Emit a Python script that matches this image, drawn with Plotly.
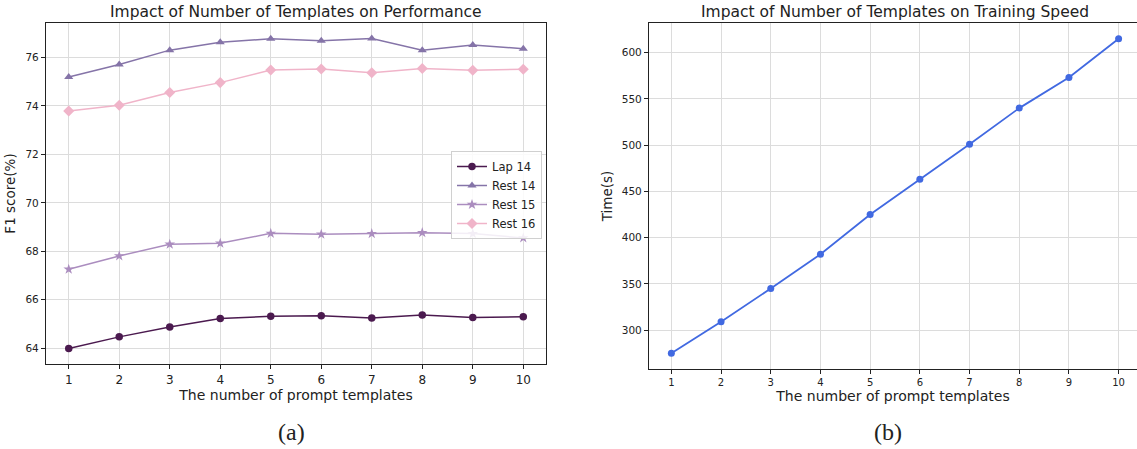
import plotly.graph_objects as go

templates = [1, 2, 3, 4, 5, 6, 7, 8, 9, 10]
lap14 = [63.99, 64.47, 64.88, 65.23, 65.32, 65.34, 65.25, 65.37, 65.27, 65.30]
rest14 = [75.19, 75.71, 76.30, 76.63, 76.77, 76.69, 76.78, 76.30, 76.51, 76.36]
rest15 = [67.26, 67.81, 68.29, 68.33, 68.74, 68.70, 68.73, 68.77, 68.73, 68.55]
rest16 = [73.79, 74.03, 74.55, 74.96, 75.48, 75.52, 75.37, 75.54, 75.47, 75.51]
train_time = [275, 309, 345, 382, 425, 463, 501, 540, 573, 615]

series = [
    ("Lap 14", lap14, "#4b1a4f", "circle", 7.5),
    ("Rest 14", rest14, "#8574a8", "triangle-up", 8),
    ("Rest 15", rest15, "#ab8dbf", "star", 8),
    ("Rest 16", rest16, "#f0b4c9", "diamond", 8.5),
]

FONT = "DejaVu Sans"
fig = go.Figure()
for name, vals, color, sym, sz in series:
    fig.add_trace(go.Scatter(
        x=templates, y=vals, name=name, mode="lines+markers",
        line=dict(color=color, width=1.5),
        marker=dict(symbol=sym, size=sz, color=color),
        xaxis="x", yaxis="y"))

fig.add_trace(go.Scatter(
    x=templates, y=train_time, name="Time", mode="lines+markers",
    line=dict(color="#4169e1", width=1.8),
    marker=dict(symbol="circle", size=7, color="#4169e1"),
    xaxis="x2", yaxis="y2", showlegend=False))

W, H = 1137, 449
axis_common = dict(
    showline=True, linecolor="#222", linewidth=1.2, mirror=True,
    showgrid=True, gridcolor="#dcdcdc", gridwidth=1,
    ticks="outside", ticklen=4, tickcolor="#222",
    zeroline=False, color="#222", automargin=False)

fig.update_layout(
    width=W, height=H, margin=dict(l=0, r=0, t=0, b=0, autoexpand=False),
    paper_bgcolor="white", plot_bgcolor="white",
    font=dict(family=FONT, color="#222"),
    xaxis=dict(domain=[46 / W, 546 / W], range=[0.55, 10.45], tickvals=templates,
               tickfont=dict(size=12), anchor="y",
               title=dict(text="The number of prompt templates", font=dict(size=14), standoff=4),
               **axis_common),
    yaxis=dict(domain=[1 - 364 / H, 1 - 23 / H], range=[63.35, 77.42],
               tickvals=[64, 66, 68, 70, 72, 74, 76], tickfont=dict(size=10.5), anchor="x",
               title=dict(text="F1 score(%)", font=dict(size=13.5), standoff=6),
               **axis_common),
    xaxis2=dict(domain=[649 / W, 1.0], range=[0.55, 10.37], tickvals=templates,
                tickfont=dict(size=10), anchor="y2",
                title=dict(text="The number of prompt templates", font=dict(size=14), standoff=4),
                **axis_common),
    yaxis2=dict(domain=[1 - 369 / H, 1 - 23 / H], range=[258, 632],
                tickvals=[300, 350, 400, 450, 500, 550, 600], tickfont=dict(size=10.5), anchor="x2",
                title=dict(text="Time(s)", font=dict(size=13.5), standoff=6),
                **axis_common),
    legend=dict(x=542 / W, y=1 - 151 / H, xanchor="right", yanchor="top",
                bgcolor="rgba(255,255,255,0.85)", bordercolor="#d0d0d0", borderwidth=1,
                font=dict(size=11.5, family=FONT), tracegroupgap=0, itemwidth=30),
    annotations=[
        dict(text="Impact of Number of Templates on Performance", x=296 / W, y=1 - 12 / H,
             xanchor="center", yanchor="middle",
             xref="paper", yref="paper", showarrow=False, font=dict(size=15.5, family=FONT)),
        dict(text="Impact of Number of Templates on Training Speed", x=895 / W, y=1 - 12 / H,
             xanchor="center", yanchor="middle",
             xref="paper", yref="paper", showarrow=False, font=dict(size=15.5, family=FONT)),
        dict(text="(a)", x=291 / W, y=1 - 432 / H, xanchor="center", yanchor="middle",
             xref="paper", yref="paper", showarrow=False,
             font=dict(size=24, family="Liberation Serif")),
        dict(text="(b)", x=888 / W, y=1 - 432 / H, xanchor="center", yanchor="middle",
             xref="paper", yref="paper", showarrow=False,
             font=dict(size=24, family="Liberation Serif")),
    ],
)

fig.write_html(
    "out.html",
    config={"displayModeBar": False},
    post_script="document.body.style.margin='0';document.body.style.overflow='hidden';",
)
